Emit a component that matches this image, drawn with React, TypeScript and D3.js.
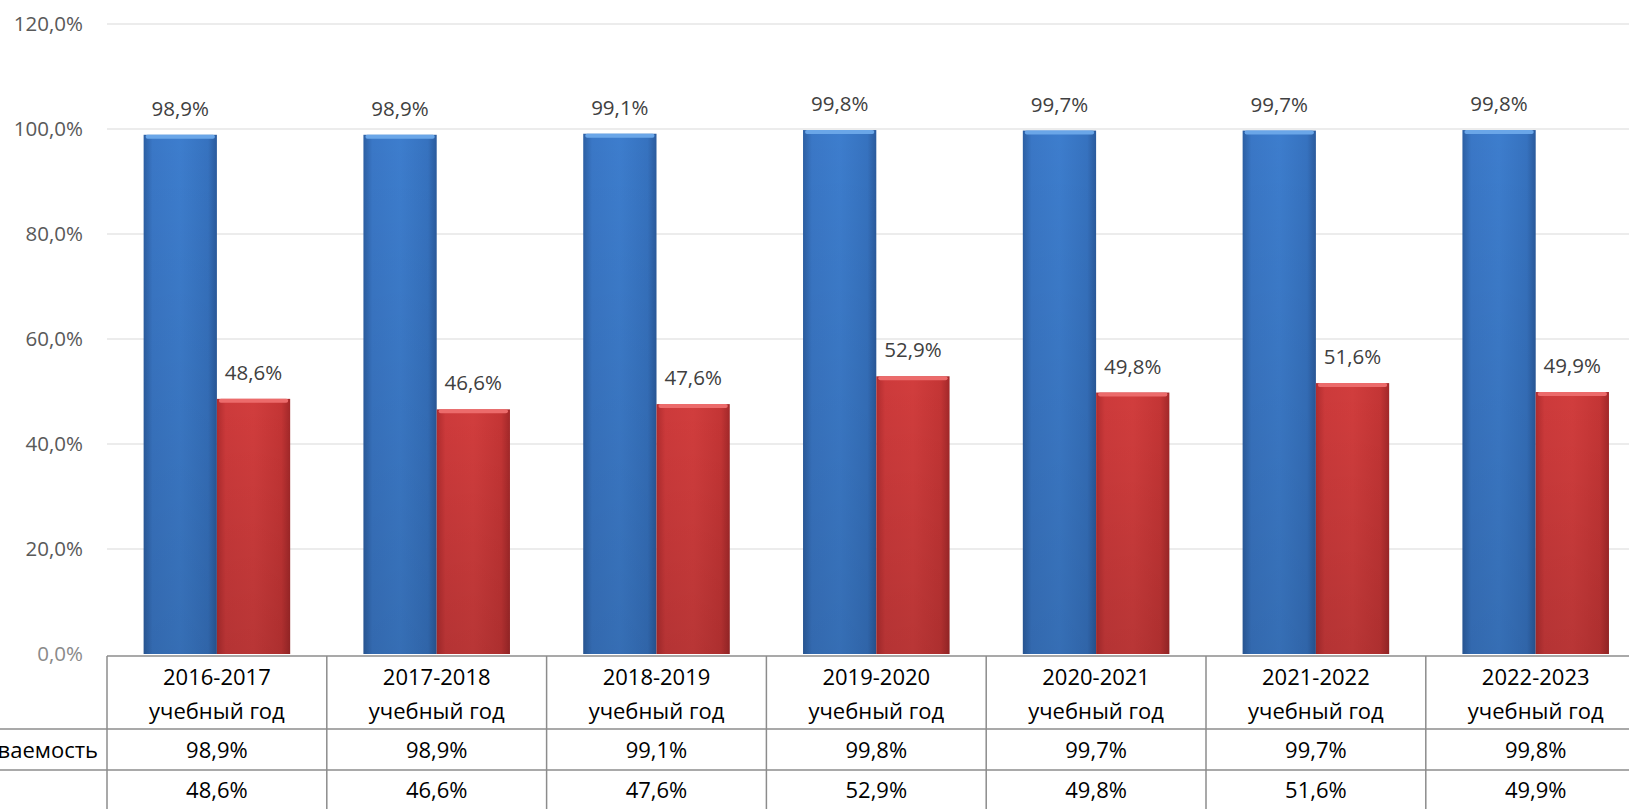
import * as d3 from "d3";

const categories = [
  "2016-2017",
  "2017-2018",
  "2018-2019",
  "2019-2020",
  "2020-2021",
  "2021-2022",
  "2022-2023",
];
const yearSuffix = "учебный год";
const seriesNames = ["Успеваемость", ""];
const successValues = [98.9, 98.9, 99.1, 99.8, 99.7, 99.7, 99.8];
const qualityValues = [48.6, 46.6, 47.6, 52.9, 49.8, 51.6, 49.9];
const yTicks = [0, 20, 40, 60, 80, 100, 120];

const W = 1629;
const H = 809;
const left = 107;
const colW = 219.8;
const baseY = 654;
const topY = 24;
const tableTop = 656;
const row1 = 729;
const row2 = 770;
const font = "'Open Sans', 'Noto Sans', sans-serif";

const ru = d3.formatLocale({
  decimal: ",",
  thousands: " ",
  grouping: [3],
  currency: ["", " ₽"],
});
const fmt = ru.format(".1f");
const pct = (v: number) => fmt(v) + "%";

const App = () => {
  const x = d3
    .scaleBand<string>()
    .domain(categories)
    .range([left, left + colW * categories.length])
    .padding(0);
  const bw = x.bandwidth();
  const x1 = d3
    .scaleBand<string>()
    .domain(["s", "q"])
    .range([bw / 6, (bw * 5) / 6])
    .padding(0);
  const y = d3.scaleLinear().domain([0, 120]).range([baseY, topY]);

  const series = [
    { key: "s", values: successValues, fill: "url(#blueGrad)", top: "#6aa6e8" },
    { key: "q", values: qualityValues, fill: "url(#redGrad)", top: "#ec6b6b" },
  ];

  return (
    <svg
      width={W}
      height={H}
      style={{ position: "absolute", left: 0, top: 0, background: "#fff" }}
      fontFamily={font}
    >
      <defs>
        <linearGradient id="blueGrad" x1="0" x2="1" y1="0" y2="0">
          <stop offset="0%" stopColor="#2c5fa3" />
          <stop offset="12%" stopColor="#3a77c6" />
          <stop offset="50%" stopColor="#3d7dcd" />
          <stop offset="88%" stopColor="#3672bf" />
          <stop offset="100%" stopColor="#2a5a9c" />
        </linearGradient>
        <linearGradient id="redGrad" x1="0" x2="1" y1="0" y2="0">
          <stop offset="0%" stopColor="#b02c2e" />
          <stop offset="12%" stopColor="#cd3a3b" />
          <stop offset="50%" stopColor="#d13d3d" />
          <stop offset="88%" stopColor="#c43535" />
          <stop offset="100%" stopColor="#a22829" />
        </linearGradient>
        <linearGradient id="shade" x1="0" x2="0" y1="0" y2="1">
          <stop offset="0%" stopColor="#000" stopOpacity={0} />
          <stop offset="100%" stopColor="#000" stopOpacity={0.12} />
        </linearGradient>
      </defs>

      {/* grid */}
      {yTicks.map((t) => (
        <g key={t}>
          {t > 0 && (
            <line
              x1={left}
              x2={W}
              y1={y(t)}
              y2={y(t)}
              stroke="#d9d9d9"
              strokeWidth={1.2}
            />
          )}
          <text
            x={83}
            y={y(t) + 7}
            textAnchor="end"
            fontSize={20.5}
            fill={t === 0 ? "#8a8a8a" : "#595959"}
          >
            {pct(t)}
          </text>
        </g>
      ))}

      {/* bars */}
      {categories.map((c, i) => (
        <g key={c} transform={`translate(${x(c)},0)`}>
          {series.map((s) => {
            const v = s.values[i];
            const bx = x1(s.key) as number;
            const bwid = x1.bandwidth();
            const top = y(v);
            return (
              <g key={s.key}>
                <rect x={bx} y={top} width={bwid} height={baseY - top} fill={s.fill} />
                <rect x={bx} y={top} width={bwid} height={baseY - top} fill="url(#shade)" />
                <rect x={bx + 2} y={top} width={bwid - 4} height={4} fill={s.top} rx={2} />
                <text
                  x={bx + bwid / 2}
                  y={top - 19}
                  textAnchor="middle"
                  fontSize={20.5}
                  fill="#404040"
                >
                  {pct(v)}
                </text>
              </g>
            );
          })}
        </g>
      ))}

      {/* data table */}
      <line x1={left} x2={W} y1={tableTop} y2={tableTop} stroke="#8c8c8c" strokeWidth={1.5} />
      <line x1={0} x2={W} y1={row1} y2={row1} stroke="#8c8c8c" strokeWidth={1.5} />
      <line x1={0} x2={W} y1={row2} y2={row2} stroke="#8c8c8c" strokeWidth={1.5} />
      {categories.map((c) => (
        <line
          key={c}
          x1={x(c) as number}
          x2={x(c) as number}
          y1={tableTop}
          y2={H}
          stroke="#8c8c8c"
          strokeWidth={1.5}
        />
      ))}
      {categories.map((c, i) => {
        const cx = (x(c) as number) + bw / 2;
        return (
          <g key={c} fontSize={22} fill="#000" textAnchor="middle">
            <text x={cx} y={685}>{c}</text>
            <text x={cx} y={719}>{yearSuffix}</text>
            <text x={cx} y={758}>{pct(successValues[i])}</text>
            <text x={cx} y={798}>{pct(qualityValues[i])}</text>
          </g>
        );
      })}
      <text x={98} y={758} textAnchor="end" fontSize={22} fill="#000">
        {seriesNames[0]}
      </text>
      <text x={98} y={798} textAnchor="end" fontSize={22} fill="#000">
        {seriesNames[1]}
      </text>
    </svg>
  );
};

export default App;
